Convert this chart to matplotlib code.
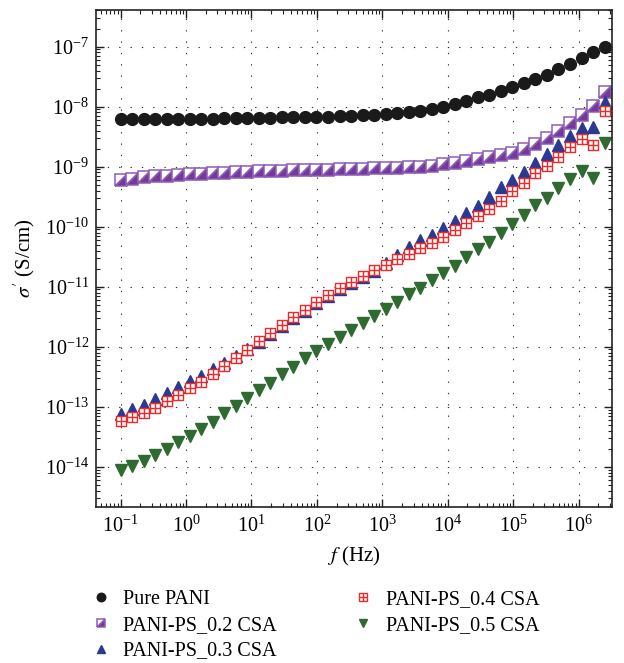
import matplotlib
matplotlib.use("Agg")
import matplotlib.pyplot as plt
from matplotlib.markers import MarkerStyle
from matplotlib.path import Path
from matplotlib.transforms import Affine2D
from matplotlib.ticker import FixedLocator, NullFormatter, LogFormatterSciNotation

plt.rcParams['font.family'] = ['Liberation Serif', 'DejaVu Serif']
plt.rcParams['mathtext.fontset'] = 'stix'

# ---- data ----
freq = [0.1, 0.15, 0.225, 0.338, 0.506, 0.759, 1.14, 1.71, 2.56, 3.84, 5.77,
        8.65, 13.0, 19.5, 29.2, 43.8, 65.7, 98.5, 148, 222, 333, 499, 749,
        1120, 1680, 2530, 3790, 5690, 8530, 12800, 19200, 28800, 43200, 64800,
        97200, 146000, 219000, 328000, 492000, 738000, 1110000, 1660000, 2490000]

pure_pani = [6.11e-9, 6.11e-9, 6.11e-9, 6.11e-9, 6.19e-9, 6.19e-9, 6.19e-9, 6.19e-9,
             6.27e-9, 6.35e-9, 6.43e-9, 6.43e-9, 6.52e-9, 6.52e-9, 6.61e-9, 6.61e-9,
             6.70e-9, 6.78e-9, 6.78e-9, 6.87e-9, 7.05e-9, 7.24e-9, 7.34e-9, 7.63e-9,
             7.83e-9, 8.26e-9, 8.59e-9, 9.17e-9, 9.9e-9, 1.11e-8, 1.24e-8, 1.43e-8,
             1.59e-8, 1.83e-8, 2.09e-8, 2.44e-8, 2.86e-8, 3.43e-8, 4.22e-8, 5.21e-8,
             6.42e-8, 8.12e-8, 1.0e-7]

ps_02 = [5.94e-10, 6.35e-10, 6.6e-10, 6.87e-10, 7.05e-10, 7.24e-10, 7.43e-10, 7.63e-10,
         7.83e-10, 7.93e-10, 8.14e-10, 8.25e-10, 8.36e-10, 8.47e-10, 8.58e-10, 8.69e-10,
         8.69e-10, 8.81e-10, 8.92e-10, 9.04e-10, 9.16e-10, 9.28e-10, 9.40e-10, 9.52e-10,
         9.64e-10, 9.77e-10, 1.0e-9, 1.03e-9, 1.09e-9, 1.16e-9, 1.25e-9, 1.35e-9,
         1.47e-9, 1.58e-9, 1.71e-9, 2.0e-9, 2.4e-9, 3.0e-9, 4.0e-9, 5.3e-9,
         7.2e-9, 1.02e-8, 1.78e-8]

ps_03 = [7.57e-14, 9.2e-14, 1.08e-13, 1.33e-13, 1.70e-13, 2.10e-13, 2.72e-13, 3.23e-13,
         4.25e-13, 5.37e-13, 6.98e-13, 9.0e-13, 1.22e-12, 1.64e-12, 2.2e-12, 3.03e-12,
         4.0e-12, 5.3e-12, 6.95e-12, 9.2e-12, 1.14e-11, 1.45e-11, 1.85e-11, 2.5e-11,
         3.4e-11, 4.6e-11, 5.9e-11, 7.3e-11, 9.6e-11, 1.25e-10, 1.70e-10, 2.2e-10,
         3.1e-10, 4.5e-10, 6.0e-10, 8.0e-10, 1.15e-9, 1.63e-9, 2.30e-9, 3.25e-9,
         4.36e-9, 4.65e-9, 1.21e-8]

ps_04 = [5.82e-14, 6.64e-14, 7.97e-14, 9.7e-14, 1.26e-13, 1.55e-13, 2.02e-13, 2.62e-13,
         3.49e-13, 4.78e-13, 6.53e-13, 8.7e-13, 1.26e-12, 1.70e-12, 2.28e-12, 3.15e-12,
         4.15e-12, 5.5e-12, 7.31e-12, 9.68e-12, 1.20e-11, 1.51e-11, 1.90e-11, 2.32e-11,
         2.91e-11, 3.55e-11, 4.38e-11, 5.4e-11, 6.85e-11, 8.85e-11, 1.14e-10, 1.48e-10,
         1.95e-10, 2.72e-10, 3.9e-10, 5.3e-10, 7.7e-10, 1.03e-9, 1.47e-9, 2.11e-9,
         2.86e-9, 2.30e-9, 8.6e-9]

ps_05 = [8.9e-15, 1.04e-14, 1.27e-14, 1.56e-14, 2.01e-14, 2.54e-14, 3.32e-14, 4.29e-14,
         5.68e-14, 7.82e-14, 1.04e-13, 1.39e-13, 1.91e-13, 2.53e-13, 3.45e-13, 4.68e-13,
         6.44e-13, 8.54e-13, 1.12e-12, 1.44e-12, 1.91e-12, 2.47e-12, 3.27e-12, 4.33e-12,
         5.66e-12, 7.5e-12, 9.7e-12, 1.30e-11, 1.72e-11, 2.22e-11, 3.10e-11, 4.22e-11,
         5.65e-11, 7.98e-11, 1.11e-10, 1.57e-10, 2.28e-10, 2.98e-10, 4.4e-10, 6.2e-10,
         8.4e-10, 6.5e-10, 2.46e-9]

labels = ["Pure PANI", "PANI-PS_0.2 CSA", "PANI-PS_0.3 CSA",
          "PANI-PS_0.4 CSA", "PANI-PS_0.5 CSA"]

x_decades = [-1, 0, 1, 2, 3, 4, 5, 6]
y_decades = [-14, -13, -12, -11, -10, -9, -8, -7]

# ---- markers ----
half_square = MarkerStyle('D', fillstyle='bottom',
                          transform=Affine2D().rotate_deg(45))
grid_square = Path(
    [(-1, -1), (1, -1), (1, 1), (-1, 1), (-1, -1),
     (0, -1), (0, 1), (-1, 0), (1, 0)],
    [Path.MOVETO, Path.LINETO, Path.LINETO, Path.LINETO, Path.CLOSEPOLY,
     Path.MOVETO, Path.LINETO, Path.MOVETO, Path.LINETO])

fig = plt.figure(figsize=(6.24, 6.63), dpi=100)
ax = fig.add_axes([96/624, 1-507/663, (612-96)/624, (507-10)/663])

h1, = ax.plot(freq, pure_pani, ls='none', marker='o', ms=8.5,
              color='#1a1a1a', mec='#1a1a1a', label=labels[0])
h2, = ax.plot(freq, ps_02, ls='none', marker=half_square, ms=8.4,
              mfc='#74399a', mfcalt='white', mec='#8d5cb5', mew=1.1,
              label=labels[1])
h3, = ax.plot(freq, ps_03, ls='none', marker='^', ms=8.2,
              color='#2b3990', mec='#2b3990', label=labels[2])
h4, = ax.plot(freq, ps_04, ls='none', marker=grid_square, ms=7.4,
              mfc='white', mec='#ee2a2a', mew=1.0, label=labels[3])
h5, = ax.plot(freq, ps_05, ls='none', marker='v', ms=8.2,
              color='#2f6a31', mec='#2f6a31', label=labels[4])

ax.set_xscale('log')
ax.set_yscale('log')
ax.set_xlim(10**-1.375, 10**6.51)
ax.set_ylim(10**-14.67, 10**-6.39)

xmaj = [10.0**d for d in x_decades]
ymaj = [10.0**d for d in y_decades]
xmin = [m * 10.0**d for d in range(-2, 7) for m in range(2, 10)]
ymin = [m * 10.0**d for d in range(-15, -6) for m in range(2, 10)]
ax.xaxis.set_major_locator(FixedLocator(xmaj))
ax.yaxis.set_major_locator(FixedLocator(ymaj))
ax.xaxis.set_minor_locator(FixedLocator(xmin))
ax.yaxis.set_minor_locator(FixedLocator(ymin))
ax.xaxis.set_major_formatter(LogFormatterSciNotation())
ax.yaxis.set_major_formatter(LogFormatterSciNotation())
ax.xaxis.set_minor_formatter(NullFormatter())
ax.yaxis.set_minor_formatter(NullFormatter())

ax.tick_params(which='both', direction='in', top=True, right=True,
               labelsize=14.5, color='#222222')
ax.tick_params(which='major', length=6, width=1.0)
ax.tick_params(which='minor', length=3, width=0.8)
ax.tick_params(axis='x', pad=6)
ax.tick_params(axis='y', pad=5)
for s in ax.spines.values():
    s.set_linewidth(1.2)
    s.set_color('#222222')

ax.grid(True, which='major', color='#333333', lw=0.8, ls=(0, (1.2, 9)))
ax.set_axisbelow(True)

ax.set_xlabel("$f$ (Hz)", fontsize=15, labelpad=6)
ax.set_ylabel("$\\sigma^{\\prime}$ (S/cm)", fontsize=15, labelpad=6)

fig.legend(handles=[h1, h2, h3, h4, h5], loc='upper left',
           bbox_to_anchor=(91/624, 1-590/663), ncol=2, frameon=False,
           fontsize=14.5, markerscale=0.72, handlelength=1.0,
           handletextpad=0.6, columnspacing=3.8, labelspacing=0.33,
           borderpad=0, borderaxespad=0)

fig.savefig("out.png", dpi=100)
